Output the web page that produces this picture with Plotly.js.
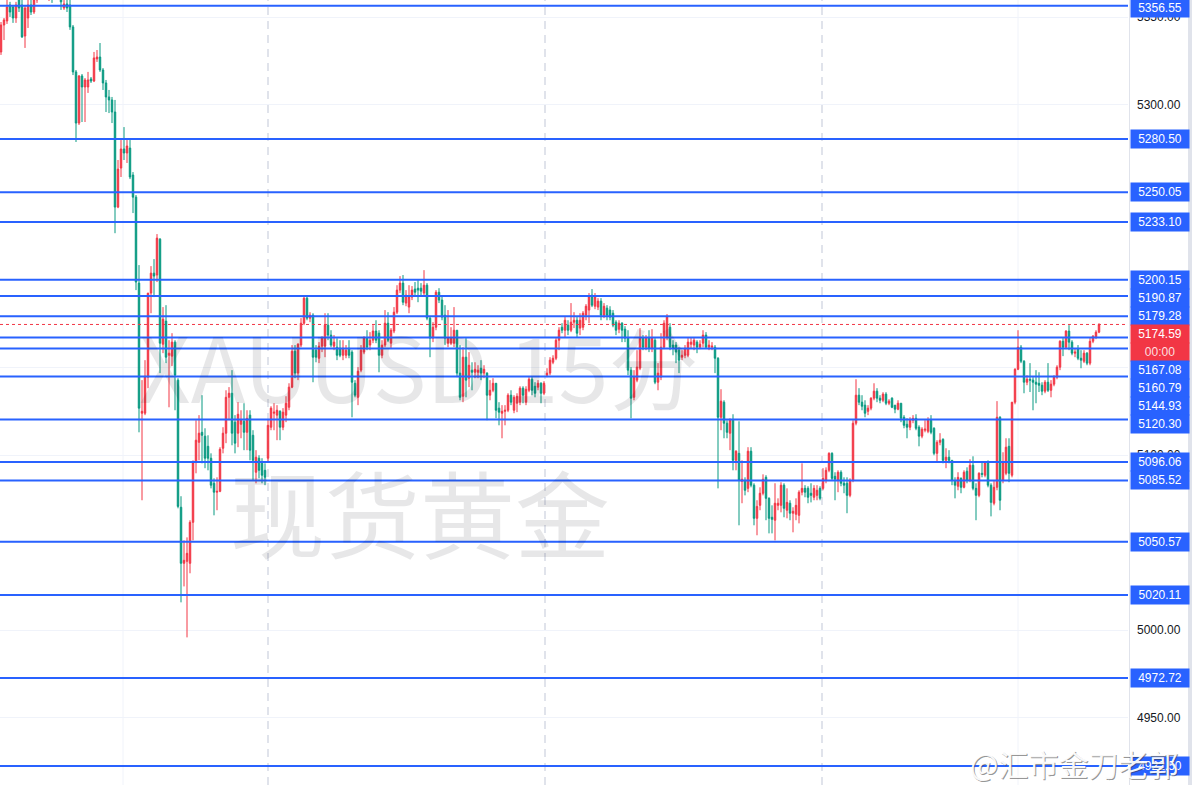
<!DOCTYPE html>
<html><head><meta charset="utf-8">
<script src="https://cdn.plot.ly/plotly-3.0.1.min.js"></script>
<style>html,body{margin:0;padding:0;background:#fff;}#chart{width:1192px;height:785px;}</style>
</head><body><div id="chart"></div>
<script>
const openP = [5330.2,5345.6,5347.9,5357.0,5355.9,5349.6,5362.8,5357.0,5339.3,5349.6,
5357.0,5353.0,5359.9,5364.5,5361.6,5366.8,5363.3,5368.5,5364.5,5367.9,
5362.8,5355.3,5357.6,5357.0,5344.5,5318.8,5289.6,5316.5,5310.2,5310.2,
5314.8,5313.6,5326.2,5327.3,5319.9,5312.5,5304.5,5302.8,5295.9,5241.6,
5263.9,5274.8,5272.5,5275.3,5259.9,5247.3,5198.2,5123.9,5123.9,5144.5,
5192.5,5203.9,5202.8,5223.3,5163.3,5176.5,5157.0,5156.5,5164.5,5142.8,
5070.2,5038.2,5039.3,5038.2,5061.6,5095.9,5107.3,5113.0,5110.8,5105.0,
5098.2,5083.9,5078.8,5079.3,5103.9,5112.5,5133.0,5135.3,5118.8,5112.5,
5117.6,5119.3,5113.0,5122.8,5111.3,5090.2,5098.2,5095.3,5091.3,5098.2,
5115.9,5123.9,5122.8,5125.0,5115.9,5122.8,5127.3,5138.8,5159.3,5146.8,
5162.8,5175.3,5189.6,5178.2,5179.9,5159.9,5155.3,5162.2,5162.2,5174.2,
5168.5,5162.2,5161.6,5161.0,5157.0,5157.0,5161.0,5158.8,5141.0,5133.0,
5148.5,5158.8,5166.8,5162.8,5165.6,5170.8,5169.6,5157.0,5162.8,5175.3,
5163.9,5170.8,5181.6,5194.2,5198.2,5186.8,5184.5,5190.2,5194.8,5195.3,
5195.3,5192.5,5197.0,5178.2,5166.8,5173.0,5193.0,5188.5,5179.9,5163.9,
5163.9,5163.9,5171.3,5146.8,5133.6,5155.9,5143.9,5148.5,5147.3,5147.3,
5149.6,5146.8,5146.8,5134.2,5137.0,5141.0,5126.8,5123.9,5125.0,5125.6,
5134.2,5125.6,5129.6,5130.2,5138.2,5130.2,5137.0,5143.3,5139.3,5138.8,
5141.0,5135.3,5145.6,5146.8,5153.0,5155.3,5165.6,5173.0,5171.3,5174.2,
5171.3,5175.9,5177.0,5172.5,5173.0,5179.9,5182.8,5191.3,5185.0,5184.5,
5187.9,5179.9,5183.9,5182.8,5181.0,5175.9,5171.9,5175.3,5171.9,5166.8,
5148.5,5133.0,5142.8,5149.6,5166.8,5161.6,5166.8,5161.0,5165.6,5141.6,
5144.5,5161.6,5167.3,5173.0,5162.8,5162.8,5159.9,5155.9,5157.0,5157.0,
5163.3,5162.8,5164.5,5161.6,5163.9,5168.5,5161.6,5161.6,5161.6,5155.3,
5121.6,5130.2,5118.2,5112.5,5119.9,5097.0,5101.0,5085.0,5085.6,5081.0,
5102.2,5082.8,5063.9,5071.3,5078.2,5087.3,5075.3,5064.5,5062.8,5071.3,
5071.3,5082.8,5068.5,5072.5,5066.8,5066.2,5065.6,5078.8,5081.0,5081.0,
5078.2,5075.9,5077.0,5081.0,5081.0,5085.6,5091.3,5101.0,5087.9,5085.6,
5090.2,5083.9,5083.9,5077.0,5085.6,5118.2,5134.2,5130.2,5128.5,5125.0,
5126.8,5132.5,5136.5,5132.5,5131.3,5134.8,5129.6,5132.5,5128.5,5126.2,
5129.6,5121.6,5117.6,5115.9,5119.9,5121.0,5115.9,5110.8,5114.2,5113.6,
5119.9,5115.3,5101.0,5107.3,5109.0,5097.0,5098.8,5097.0,5085.0,5082.2,
5086.7,5081.6,5090.8,5085.6,5094.2,5081.0,5077.0,5089.6,5088.5,5095.9,
5082.8,5072.5,5081.6,5121.6,5085.6,5089.6,5105.0,5088.5,5130.2,5149.0,
5161.6,5153.6,5141.6,5143.3,5142.8,5141.6,5141.0,5139.9,5136.5,5141.6,
5137.0,5140.5,5144.5,5150.2,5165.0,5161.6,5170.8,5164.5,5158.2,5160.5,
5155.3,5153.6,5158.2,5152.5,5165.0,5167.3,5170.2];
const highP = [5347.3,5349.6,5359.9,5358.8,5357.0,5358.8,5366.8,5359.9,5357.0,5362.8,
5364.5,5362.8,5366.8,5367.9,5370.2,5371.3,5372.5,5371.3,5370.8,5369.6,
5365.6,5359.9,5361.0,5359.9,5345.6,5319.9,5317.0,5317.6,5315.3,5318.8,
5315.9,5330.2,5331.3,5335.3,5321.0,5314.2,5308.5,5304.5,5302.8,5268.5,
5279.9,5287.3,5279.9,5279.9,5261.6,5248.5,5208.5,5142.8,5154.2,5192.5,
5207.9,5211.9,5226.2,5223.9,5184.5,5185.6,5165.6,5169.6,5165.6,5143.9,
5076.5,5051.3,5053.0,5062.8,5097.0,5119.9,5122.8,5134.2,5115.3,5111.3,
5101.0,5086.7,5087.3,5104.5,5115.9,5137.0,5138.8,5148.5,5122.8,5130.2,
5125.6,5129.6,5125.6,5125.6,5114.2,5102.8,5099.9,5098.2,5095.3,5119.9,
5127.9,5129.6,5128.5,5125.6,5126.8,5133.6,5141.0,5162.8,5162.8,5163.9,
5178.2,5191.3,5190.8,5181.6,5181.0,5162.8,5164.5,5167.9,5181.0,5181.0,
5171.3,5168.5,5166.7,5165.6,5165.6,5162.8,5165.6,5159.9,5142.8,5150.2,
5162.8,5167.9,5171.3,5170.2,5174.2,5177.0,5171.3,5165.6,5182.8,5181.6,
5172.5,5184.5,5197.0,5202.2,5202.8,5194.2,5197.0,5196.5,5198.8,5199.9,
5198.2,5205.6,5198.2,5179.3,5175.9,5194.2,5195.3,5191.3,5185.6,5182.8,
5173.0,5184.5,5171.3,5162.8,5161.6,5166.8,5158.8,5153.0,5153.0,5151.3,
5154.2,5151.3,5147.3,5142.8,5143.9,5141.0,5130.2,5128.5,5128.5,5135.3,
5137.0,5134.2,5135.3,5139.3,5139.3,5139.3,5144.5,5144.5,5141.6,5142.8,
5141.6,5142.2,5149.6,5155.9,5157.0,5166.8,5173.0,5175.3,5178.8,5177.0,
5186.8,5181.6,5178.8,5181.0,5182.2,5186.2,5192.5,5194.8,5192.5,5189.6,
5189.6,5186.8,5185.6,5185.0,5182.8,5177.0,5177.0,5175.9,5173.6,5171.3,
5150.2,5148.5,5159.9,5172.5,5168.5,5168.5,5171.3,5171.9,5166.8,5152.5,
5169.6,5177.0,5180.5,5175.3,5165.6,5164.5,5161.6,5159.9,5162.8,5166.8,
5167.3,5167.3,5165.6,5165.6,5171.3,5170.2,5165.6,5164.5,5162.8,5155.9,
5137.6,5131.3,5119.9,5121.0,5123.3,5102.8,5119.3,5097.0,5087.3,5104.5,
5104.5,5083.9,5074.2,5081.6,5089.0,5088.5,5075.9,5071.3,5083.9,5075.3,
5084.5,5083.9,5081.0,5074.2,5070.2,5075.3,5079.9,5095.3,5082.8,5082.2,
5083.9,5082.8,5082.8,5082.2,5092.5,5093.0,5101.6,5101.6,5090.2,5091.3,
5091.3,5087.3,5087.3,5086.7,5119.9,5143.3,5138.2,5134.2,5131.3,5128.5,
5133.0,5141.0,5138.2,5134.2,5135.9,5135.9,5131.9,5133.0,5128.5,5131.3,
5129.6,5122.8,5121.0,5121.6,5122.8,5123.3,5117.0,5115.9,5119.9,5121.6,
5122.8,5115.9,5108.5,5112.5,5109.6,5103.9,5102.8,5097.0,5087.3,5090.2,
5087.3,5091.3,5093.0,5097.6,5099.3,5083.9,5090.2,5095.9,5096.5,5097.0,
5083.9,5085.6,5130.8,5122.2,5101.6,5109.6,5109.6,5130.2,5149.6,5171.3,
5162.8,5154.2,5145.6,5152.5,5144.5,5148.5,5147.3,5141.6,5142.8,5152.5,
5142.8,5145.6,5151.3,5165.6,5166.8,5171.3,5174.2,5165.6,5161.0,5162.8,
5159.9,5159.9,5158.8,5166.8,5168.5,5171.3,5175.3];
const lowP = [5328.5,5337.0,5346.2,5350.2,5346.8,5346.8,5353.0,5338.2,5332.5,5343.9,
5351.3,5351.9,5358.2,5359.9,5360.5,5361.0,5359.3,5358.2,5361.6,5359.9,
5354.2,5354.2,5353.0,5342.8,5317.0,5278.8,5288.5,5290.2,5290.2,5306.8,
5312.5,5313.0,5324.5,5318.8,5308.5,5295.9,5295.3,5289.6,5226.7,5241.0,
5258.8,5268.5,5266.8,5257.6,5238.2,5194.2,5113.0,5074.2,5122.8,5138.2,
5181.0,5190.2,5198.8,5146.8,5158.2,5152.5,5127.3,5150.8,5125.6,5069.6,
5015.9,5025.0,4995.9,5032.5,5051.3,5089.6,5097.0,5095.3,5092.5,5091.3,
5081.0,5065.6,5068.5,5078.8,5101.0,5106.8,5119.9,5105.6,5101.0,5104.5,
5109.6,5102.8,5102.8,5097.0,5085.6,5083.9,5086.8,5083.9,5082.8,5095.9,
5114.2,5114.2,5108.5,5108.5,5114.2,5118.8,5125.6,5138.2,5143.9,5142.8,
5161.6,5174.2,5177.0,5175.9,5141.6,5153.0,5152.5,5158.8,5155.9,5165.6,
5161.6,5159.9,5154.2,5155.9,5154.2,5155.3,5155.3,5121.6,5133.0,5128.5,
5147.3,5157.6,5159.9,5159.9,5163.9,5163.9,5147.3,5155.3,5161.6,5164.5,
5161.0,5169.6,5180.5,5192.5,5185.6,5185.0,5181.0,5188.5,5191.3,5187.3,
5190.8,5191.3,5177.0,5155.9,5164.5,5171.3,5186.8,5177.0,5162.8,5161.6,
5162.8,5161.6,5144.5,5131.3,5130.2,5133.0,5138.8,5137.0,5143.9,5143.9,
5142.8,5143.9,5119.9,5131.3,5135.9,5121.0,5117.0,5109.6,5117.0,5124.5,
5128.5,5123.9,5124.5,5128.5,5129.6,5128.5,5135.9,5134.2,5133.0,5137.0,
5129.6,5134.2,5144.5,5145.6,5151.9,5154.2,5159.9,5169.6,5167.3,5168.5,
5170.2,5172.5,5167.3,5168.5,5171.3,5177.0,5175.3,5184.5,5183.3,5182.8,
5177.0,5178.2,5177.0,5177.0,5173.0,5168.5,5169.6,5164.5,5164.5,5145.6,
5121.0,5131.3,5141.6,5148.5,5159.9,5159.9,5158.8,5158.8,5140.5,5137.0,
5142.8,5160.5,5165.6,5159.9,5157.0,5152.5,5146.8,5154.2,5155.3,5155.9,
5161.0,5159.9,5158.2,5160.5,5161.6,5161.0,5159.9,5159.9,5146.8,5081.0,
5114.2,5109.6,5109.6,5102.8,5091.3,5091.3,5059.9,5072.5,5077.0,5078.8,
5081.6,5059.9,5054.2,5068.5,5077.0,5062.8,5055.3,5055.3,5051.3,5068.5,
5067.3,5064.5,5063.9,5062.8,5055.9,5062.8,5061.0,5077.0,5075.9,5072.5,
5073.0,5074.2,5074.2,5074.2,5079.9,5083.9,5090.2,5085.6,5074.2,5078.8,
5082.2,5078.2,5066.8,5075.9,5084.5,5117.0,5128.5,5125.6,5121.6,5122.8,
5125.6,5131.3,5130.2,5129.6,5130.2,5128.5,5128.5,5126.8,5123.9,5125.6,
5118.8,5115.3,5109.6,5114.2,5118.2,5114.2,5105.0,5109.6,5113.0,5112.5,
5111.9,5099.9,5095.9,5105.6,5095.3,5092.5,5095.3,5082.8,5075.3,5079.9,
5078.2,5081.0,5083.9,5084.5,5079.9,5062.8,5075.9,5087.3,5087.3,5081.6,
5065.0,5071.3,5079.9,5068.5,5083.9,5088.5,5084.5,5087.3,5129.0,5148.5,
5152.5,5135.3,5139.9,5136.0,5125.6,5129.6,5136.0,5134.2,5135.3,5136.0,
5133.0,5139.3,5143.3,5148.5,5156.5,5160.5,5159.9,5157.0,5155.9,5154.2,
5149.6,5152.5,5151.3,5151.3,5163.9,5166.2,5169.6];
const closeP = [5345.6,5348.5,5355.9,5353.0,5349.6,5357.0,5355.3,5338.8,5355.3,5357.0,
5353.0,5359.9,5364.5,5361.6,5366.8,5363.3,5368.5,5364.5,5367.9,5362.8,
5358.8,5357.6,5355.3,5344.5,5318.8,5289.6,5316.5,5310.2,5314.2,5314.2,
5313.6,5326.8,5327.3,5319.9,5312.5,5304.5,5302.8,5295.9,5241.6,5263.3,
5274.8,5272.5,5276.5,5258.8,5247.3,5198.8,5126.8,5125.0,5145.0,5192.5,
5203.9,5202.2,5223.9,5163.9,5177.6,5155.9,5158.2,5164.5,5145.6,5070.7,
5038.2,5039.9,5043.9,5061.6,5095.9,5108.5,5112.5,5111.3,5098.2,5098.2,
5082.8,5078.8,5079.3,5103.3,5112.5,5133.0,5135.3,5112.5,5106.8,5123.3,
5119.9,5113.0,5121.0,5102.8,5097.0,5098.8,5091.3,5088.5,5087.3,5117.0,
5126.8,5124.5,5125.6,5115.9,5124.5,5129.6,5138.8,5159.3,5146.8,5163.3,
5175.3,5189.6,5178.2,5179.9,5155.9,5155.9,5162.2,5166.8,5174.2,5168.5,
5162.8,5164.5,5157.0,5157.0,5161.0,5159.9,5157.0,5141.6,5134.2,5147.9,
5159.9,5166.8,5161.6,5165.6,5170.8,5165.6,5157.0,5162.8,5175.3,5165.6,
5171.3,5181.6,5194.2,5198.2,5187.3,5191.3,5190.2,5194.2,5193.0,5194.2,
5193.6,5197.0,5178.2,5166.8,5173.0,5193.0,5188.5,5178.8,5166.8,5166.8,
5166.8,5171.3,5146.8,5133.0,5155.9,5142.8,5151.3,5147.3,5149.0,5148.5,
5146.8,5149.0,5134.2,5137.0,5141.0,5125.6,5124.5,5125.0,5125.6,5134.2,
5130.2,5133.0,5133.6,5138.2,5134.2,5137.6,5143.3,5137.0,5135.3,5141.0,
5135.3,5141.0,5146.8,5154.2,5155.3,5165.6,5171.3,5171.3,5177.0,5171.3,
5175.9,5177.0,5169.6,5177.0,5181.0,5185.0,5190.8,5185.6,5190.2,5187.9,
5179.9,5185.0,5179.9,5178.8,5174.2,5171.3,5175.3,5171.3,5166.8,5148.5,
5132.5,5144.5,5150.2,5166.8,5161.6,5166.8,5161.0,5166.8,5141.6,5146.8,
5161.6,5175.3,5178.8,5161.6,5161.0,5158.8,5154.2,5157.0,5161.0,5164.5,
5164.5,5165.6,5161.6,5163.3,5168.5,5161.6,5162.8,5162.2,5155.3,5121.6,
5130.8,5118.2,5113.0,5119.9,5097.0,5102.2,5085.6,5086.2,5079.9,5102.2,
5082.8,5063.9,5070.7,5078.2,5086.2,5075.3,5063.9,5063.3,5072.5,5072.5,
5082.8,5069.6,5073.0,5066.8,5067.9,5071.3,5078.8,5081.0,5078.8,5075.9,
5077.0,5081.0,5079.9,5075.3,5086.7,5091.3,5101.0,5086.7,5086.2,5090.2,
5083.9,5082.8,5077.0,5085.6,5118.2,5134.2,5130.2,5127.9,5123.9,5126.8,
5132.5,5136.5,5132.5,5131.3,5134.8,5129.6,5130.8,5127.3,5126.2,5129.6,
5121.0,5117.0,5115.9,5119.9,5121.0,5115.3,5110.8,5114.8,5114.8,5119.9,
5113.0,5101.0,5107.3,5108.5,5097.0,5098.8,5097.0,5085.6,5082.8,5087.3,
5081.6,5090.2,5085.6,5094.2,5081.0,5077.0,5089.6,5089.0,5095.9,5082.8,
5073.0,5081.6,5121.6,5074.2,5095.9,5104.5,5089.6,5130.2,5149.0,5161.6,
5153.6,5141.6,5143.3,5142.8,5141.6,5140.5,5139.9,5136.5,5141.6,5137.0,
5140.5,5144.5,5150.2,5165.0,5161.6,5170.8,5164.5,5158.2,5158.8,5155.3,
5154.2,5158.2,5152.5,5165.0,5167.9,5170.2,5174.59];

const levels = [5356.55,5280.50,5250.05,5233.10,5200.15,5190.87,5179.28,5167.08,5160.79,5144.93,5120.30,5096.06,5085.52,5050.57,5020.11,4972.72,4922.50];
const lastPrice = 5174.59;
const countdownText = '00:00';
const watermarkSymbol = 'XAUUSD 15分';
const watermarkName = '现货黄金';
const creditText = '@汇市金刀老郭';
const sessionBreaks = [89, 181.33, 273.67];
const timeGrid = [40.67, 339];

const W = 1192, H = 785, RM = 64;
const yMin = 4911.6, yMax = 5359.87;
const unitPerPx = (yMax - yMin) / H;
const plotW = W - RM;
const xIdx = openP.map((_, i) => i);

const UP = '#F23645', DOWN = '#089981', BLUE = '#2962FF';

const trace = {
  type: 'candlestick', x: xIdx, open: openP, high: highP, low: lowP, close: closeP,
  increasing: {line: {color: UP, width: 1}, fillcolor: UP},
  decreasing: {line: {color: DOWN, width: 1}, fillcolor: DOWN},
  whiskerwidth: 0, hoverinfo: 'skip'
};

const shapes = [];
timeGrid.forEach(v => shapes.push({type: 'line', layer: 'below', xref: 'x', yref: 'paper', x0: v, x1: v, y0: 0, y1: 1, line: {color: '#f0f3fa', width: 1}}));
sessionBreaks.forEach(v => shapes.push({type: 'line', layer: 'below', xref: 'x', yref: 'paper', x0: v, x1: v, y0: 0, y1: 1, line: {color: '#e0e3eb', width: 2, dash: '8px,6px'}}));
levels.forEach(v => shapes.push({type: 'line', xref: 'paper', yref: 'y', x0: 0, x1: 1, y0: v, y1: v, line: {color: BLUE, width: 2}}));
shapes.push({type: 'line', xref: 'paper', yref: 'y', x0: 0, x1: 1, y0: lastPrice, y1: lastPrice, line: {color: UP, width: 1, dash: 'dot'}});
shapes.push({type: 'line', xref: 'paper', yref: 'paper', x0: 1 + 1.5 / plotW, x1: 1 + 1.5 / plotW, y0: 0, y1: 1, line: {color: '#e0e3eb', width: 1}});
shapes.push({type: 'rect', xref: 'paper', yref: 'paper', x0: 1188 / plotW, x1: W / plotW, y0: 0, y1: 1, fillcolor: '#e0e3eb', line: {width: 0}});

// price-scale labels, stacked so they never overlap
const items = levels.map(v => ({v, text: v.toFixed(2), bg: BLUE, fg: '#ffffff'}));
items.push({v: lastPrice, text: lastPrice.toFixed(2), bg: UP, fg: '#ffffff', sub: countdownText});
items.sort((a, b) => b.v - a.v);
const rowH = 18 * unitPerPx;
let prev = yMax - 7.7 * unitPerPx + rowH;
const annotations = [];
const labelFont = {family: 'Liberation Sans, Arial, sans-serif', size: 12};
function addLabel(y, text, bg, fg) {
  annotations.push({xref: 'paper', x: 1, xanchor: 'left', xshift: 2, yref: 'y', y: y, yanchor: 'middle',
    text: text, showarrow: false, bgcolor: bg, width: 56, height: 16, borderpad: 1,
    font: Object.assign({color: fg}, labelFont), align: 'center'});
}
items.forEach(it => {
  const c = Math.min(it.v, prev - rowH);
  addLabel(c, it.text, it.bg, it.fg);
  prev = c;
  if (it.sub) {
    const c2 = prev - rowH;
    addLabel(c2, it.sub, it.bg, 'rgba(255,255,255,0.85)');
    prev = c2;
  }
});

// watermark
annotations.push({xref: 'paper', yref: 'paper', x: 418 / plotW, y: 1 - 364 / H, text: watermarkSymbol, showarrow: false,
  font: {family: 'Noto Sans CJK SC, Noto Sans, sans-serif', size: 90, color: 'rgba(19,23,34,0.10)'}, xanchor: 'center', yanchor: 'middle'});
annotations.push({xref: 'paper', yref: 'paper', x: 420 / plotW, y: 1 - 510 / H, text: watermarkName, showarrow: false,
  font: {family: 'Noto Sans CJK SC, sans-serif', size: 95, color: 'rgba(19,23,34,0.10)'}, xanchor: 'center', yanchor: 'middle'});
// credit
annotations.push({xref: 'paper', yref: 'paper', x: 1074 / plotW, y: 1 - 763 / H, xshift: 1, yshift: -1, text: creditText, showarrow: false,
  font: {family: 'Noto Sans CJK SC, sans-serif', size: 30, color: 'rgba(60,60,60,0.55)'}, xanchor: 'center', yanchor: 'middle'});
annotations.push({xref: 'paper', yref: 'paper', x: 1074 / plotW, y: 1 - 763 / H, text: creditText, showarrow: false,
  font: {family: 'Noto Sans CJK SC, sans-serif', size: 30, color: 'rgba(255,255,255,0.95)'}, xanchor: 'center', yanchor: 'middle'});

const layout = {
  width: W, height: H, margin: {l: 0, r: RM, t: 0, b: 0, pad: 0},
  paper_bgcolor: '#ffffff', plot_bgcolor: '#ffffff', showlegend: false,
  xaxis: {range: [-1 / 3, (plotW - 1) / 3], rangeslider: {visible: false}, showgrid: false, zeroline: false,
    showticklabels: false, ticks: '', fixedrange: true},
  yaxis: {side: 'right', range: [yMin, yMax], tick0: 0, dtick: 50, tickformat: '.2f', showgrid: true,
    gridcolor: '#f0f3fa', gridwidth: 1, zeroline: false, ticks: '', ticklabelstandoff: 8,
    tickfont: {family: 'Liberation Sans, Arial, sans-serif', size: 12, color: '#131722'}, fixedrange: true},
  shapes: shapes, annotations: annotations
};

Plotly.newPlot('chart', [trace], layout, {displayModeBar: false, staticPlot: true});
</script></body></html>
